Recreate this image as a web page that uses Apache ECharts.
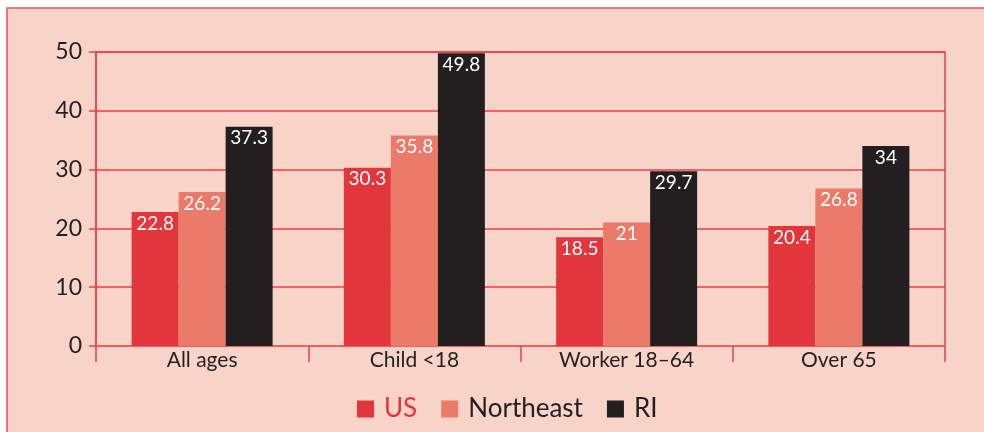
<!DOCTYPE html>
<html>
<head>
<meta charset="utf-8">
<script src="https://cdn.jsdelivr.net/npm/echarts@6/dist/echarts.min.js"></script>
<style>
  html, body { margin: 0; padding: 0; background: #fff; }
  #chart { width: 984px; height: 432px; }
</style>
</head>
<body>
<div id="chart"></div>
<script>
// data
var categories = ['All ages', 'Child <18', 'Worker 18\u201364', 'Over 65'];
var usValues = [22.8, 30.3, 18.5, 20.4];
var northeastValues = [26.2, 35.8, 21, 26.8];
var riValues = [37.3, 49.8, 29.7, 34];
var yTicks = [0, 10, 20, 30, 40, 50];

var red = '#e3353c';
var salmon = '#ec7a6a';
var black = '#231f20';
var lineRed = '#e8404a';
var font = 'Lato, "Open Sans", sans-serif';

var myChart = echarts.init(document.getElementById('chart'));

function barSeries(name, values, color) {
    return {
        name: name,
        type: 'bar',
        data: values,
        barWidth: 47,
        barGap: '0%',
        itemStyle: { color: color },
        label: {
            show: true,
            position: 'insideTop',
            distance: 2,
            color: '#fff',
            fontFamily: font,
            fontSize: 19
        },
        z: 3
    };
}

option = {
    backgroundColor: '#fff',
    animation: false,
    graphic: [{
        type: 'rect',
        z: -1,
        silent: true,
        shape: { x: 7, y: 8, width: 990, height: 440 },
        style: { fill: '#f8d3c8', stroke: '#ea4f55', lineWidth: 1.5 }
    }],
    grid: {
        left: 96, right: 39, top: 52, bottom: 86,
        show: true,
        borderColor: lineRed,
        borderWidth: 1.5,
        backgroundColor: 'transparent'
    },
    legend: {
        left: 352,
        top: 391,
        itemWidth: 17,
        itemHeight: 17,
        itemGap: 24,
        icon: 'rect',
        textStyle: { fontFamily: font, fontSize: 26, color: black, padding: [0, 0, 0, 5] },
        data: [
            { name: 'US', textStyle: { color: red } },
            { name: 'Northeast' },
            { name: 'RI' }
        ]
    },
    xAxis: {
        type: 'category',
        data: categories,
        axisLine: { lineStyle: { color: '#e8605f', width: 2 } },
        axisTick: { show: true, length: 16, interval: 0, lineStyle: { color: lineRed, width: 1.5 } },
        axisLabel: { color: black, fontFamily: font, fontSize: 21, margin: 4 }
    },
    yAxis: {
        type: 'value',
        min: yTicks[0],
        max: yTicks[yTicks.length - 1],
        interval: 10,
        axisLine: { show: true, lineStyle: { color: lineRed, width: 1.5 } },
        axisTick: { show: true, length: 7, lineStyle: { color: lineRed, width: 1.5 } },
        splitLine: { lineStyle: { color: lineRed, width: 1.5 } },
        axisLabel: { color: black, fontFamily: font, fontSize: 23, margin: 14 }
    },
    series: [
        barSeries('US', usValues, red),
        barSeries('Northeast', northeastValues, salmon),
        barSeries('RI', riValues, black)
    ]
};

myChart.setOption(option);
</script>
</body>
</html>
